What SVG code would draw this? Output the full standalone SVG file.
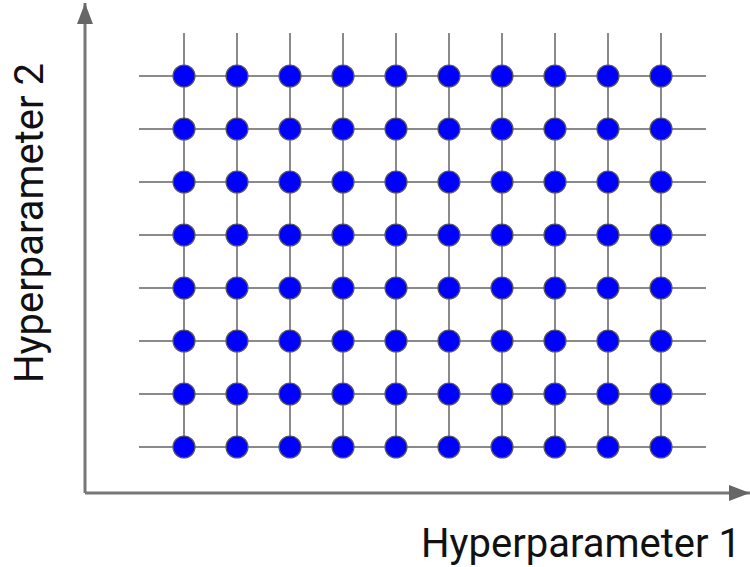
<svg xmlns="http://www.w3.org/2000/svg" width="750" height="567" viewBox="0 0 750 567">
<style>
.grid line{stroke:#8a8a8a;stroke-width:2}
.axis{stroke:#777;stroke-width:3;fill:none}
.dot{fill:#0000ff;stroke:#5a5a5a;stroke-width:1.2}
.lbl{font-family:Roboto,"Liberation Sans",sans-serif;font-size:40px;fill:#111}
</style>
<defs>
<marker id="ah" viewBox="0 0 10 10" refX="10" refY="5" markerWidth="7" markerHeight="7" orient="auto" markerUnits="strokeWidth">
<path d="M0,1.2 L10,5 L0,8.8 Z" fill="#666"/>
</marker>
</defs>
<rect width="750" height="567" fill="#fff"/>
<g id="connectors">
<g class="grid">
<line x1="139" y1="76" x2="706" y2="76"/>
<line x1="139" y1="129" x2="706" y2="129"/>
<line x1="139" y1="182" x2="706" y2="182"/>
<line x1="139" y1="235" x2="706" y2="235"/>
<line x1="139" y1="288" x2="706" y2="288"/>
<line x1="139" y1="341" x2="706" y2="341"/>
<line x1="139" y1="394" x2="706" y2="394"/>
<line x1="139" y1="447" x2="706" y2="447"/>
<line x1="184" y1="33" x2="184" y2="447"/>
<line x1="237" y1="33" x2="237" y2="447"/>
<line x1="290" y1="33" x2="290" y2="447"/>
<line x1="343" y1="33" x2="343" y2="447"/>
<line x1="396" y1="33" x2="396" y2="447"/>
<line x1="449" y1="33" x2="449" y2="447"/>
<line x1="502" y1="33" x2="502" y2="447"/>
<line x1="555" y1="33" x2="555" y2="447"/>
<line x1="608" y1="33" x2="608" y2="447"/>
<line x1="661" y1="33" x2="661" y2="447"/>
</g>
<path class="axis" d="M85,493 L85,3" marker-end="url(#ah)"/>
<path class="axis" d="M85,493 L750,493" marker-end="url(#ah)"/>
</g>
<g id="nodes">
<g id="row1"><circle class="dot" cx="184" cy="76" r="11"/><circle class="dot" cx="237" cy="76" r="11"/><circle class="dot" cx="290" cy="76" r="11"/><circle class="dot" cx="343" cy="76" r="11"/><circle class="dot" cx="396" cy="76" r="11"/><circle class="dot" cx="449" cy="76" r="11"/><circle class="dot" cx="502" cy="76" r="11"/><circle class="dot" cx="555" cy="76" r="11"/><circle class="dot" cx="608" cy="76" r="11"/><circle class="dot" cx="661" cy="76" r="11"/></g>
<g id="row2"><circle class="dot" cx="184" cy="129" r="11"/><circle class="dot" cx="237" cy="129" r="11"/><circle class="dot" cx="290" cy="129" r="11"/><circle class="dot" cx="343" cy="129" r="11"/><circle class="dot" cx="396" cy="129" r="11"/><circle class="dot" cx="449" cy="129" r="11"/><circle class="dot" cx="502" cy="129" r="11"/><circle class="dot" cx="555" cy="129" r="11"/><circle class="dot" cx="608" cy="129" r="11"/><circle class="dot" cx="661" cy="129" r="11"/></g>
<g id="row3"><circle class="dot" cx="184" cy="182" r="11"/><circle class="dot" cx="237" cy="182" r="11"/><circle class="dot" cx="290" cy="182" r="11"/><circle class="dot" cx="343" cy="182" r="11"/><circle class="dot" cx="396" cy="182" r="11"/><circle class="dot" cx="449" cy="182" r="11"/><circle class="dot" cx="502" cy="182" r="11"/><circle class="dot" cx="555" cy="182" r="11"/><circle class="dot" cx="608" cy="182" r="11"/><circle class="dot" cx="661" cy="182" r="11"/></g>
<g id="row4"><circle class="dot" cx="184" cy="235" r="11"/><circle class="dot" cx="237" cy="235" r="11"/><circle class="dot" cx="290" cy="235" r="11"/><circle class="dot" cx="343" cy="235" r="11"/><circle class="dot" cx="396" cy="235" r="11"/><circle class="dot" cx="449" cy="235" r="11"/><circle class="dot" cx="502" cy="235" r="11"/><circle class="dot" cx="555" cy="235" r="11"/><circle class="dot" cx="608" cy="235" r="11"/><circle class="dot" cx="661" cy="235" r="11"/></g>
<g id="row5"><circle class="dot" cx="184" cy="288" r="11"/><circle class="dot" cx="237" cy="288" r="11"/><circle class="dot" cx="290" cy="288" r="11"/><circle class="dot" cx="343" cy="288" r="11"/><circle class="dot" cx="396" cy="288" r="11"/><circle class="dot" cx="449" cy="288" r="11"/><circle class="dot" cx="502" cy="288" r="11"/><circle class="dot" cx="555" cy="288" r="11"/><circle class="dot" cx="608" cy="288" r="11"/><circle class="dot" cx="661" cy="288" r="11"/></g>
<g id="row6"><circle class="dot" cx="184" cy="341" r="11"/><circle class="dot" cx="237" cy="341" r="11"/><circle class="dot" cx="290" cy="341" r="11"/><circle class="dot" cx="343" cy="341" r="11"/><circle class="dot" cx="396" cy="341" r="11"/><circle class="dot" cx="449" cy="341" r="11"/><circle class="dot" cx="502" cy="341" r="11"/><circle class="dot" cx="555" cy="341" r="11"/><circle class="dot" cx="608" cy="341" r="11"/><circle class="dot" cx="661" cy="341" r="11"/></g>
<g id="row7"><circle class="dot" cx="184" cy="394" r="11"/><circle class="dot" cx="237" cy="394" r="11"/><circle class="dot" cx="290" cy="394" r="11"/><circle class="dot" cx="343" cy="394" r="11"/><circle class="dot" cx="396" cy="394" r="11"/><circle class="dot" cx="449" cy="394" r="11"/><circle class="dot" cx="502" cy="394" r="11"/><circle class="dot" cx="555" cy="394" r="11"/><circle class="dot" cx="608" cy="394" r="11"/><circle class="dot" cx="661" cy="394" r="11"/></g>
<g id="row8"><circle class="dot" cx="184" cy="447" r="11"/><circle class="dot" cx="237" cy="447" r="11"/><circle class="dot" cx="290" cy="447" r="11"/><circle class="dot" cx="343" cy="447" r="11"/><circle class="dot" cx="396" cy="447" r="11"/><circle class="dot" cx="449" cy="447" r="11"/><circle class="dot" cx="502" cy="447" r="11"/><circle class="dot" cx="555" cy="447" r="11"/><circle class="dot" cx="608" cy="447" r="11"/><circle class="dot" cx="661" cy="447" r="11"/></g>
</g>
<g id="labels">
<text class="lbl" x="741" y="557" text-anchor="end">Hyperparameter 1</text>
<text class="lbl" x="0" y="0" text-anchor="middle" transform="translate(43,223) rotate(-90)">Hyperparameter 2</text>
</g>
</svg>
